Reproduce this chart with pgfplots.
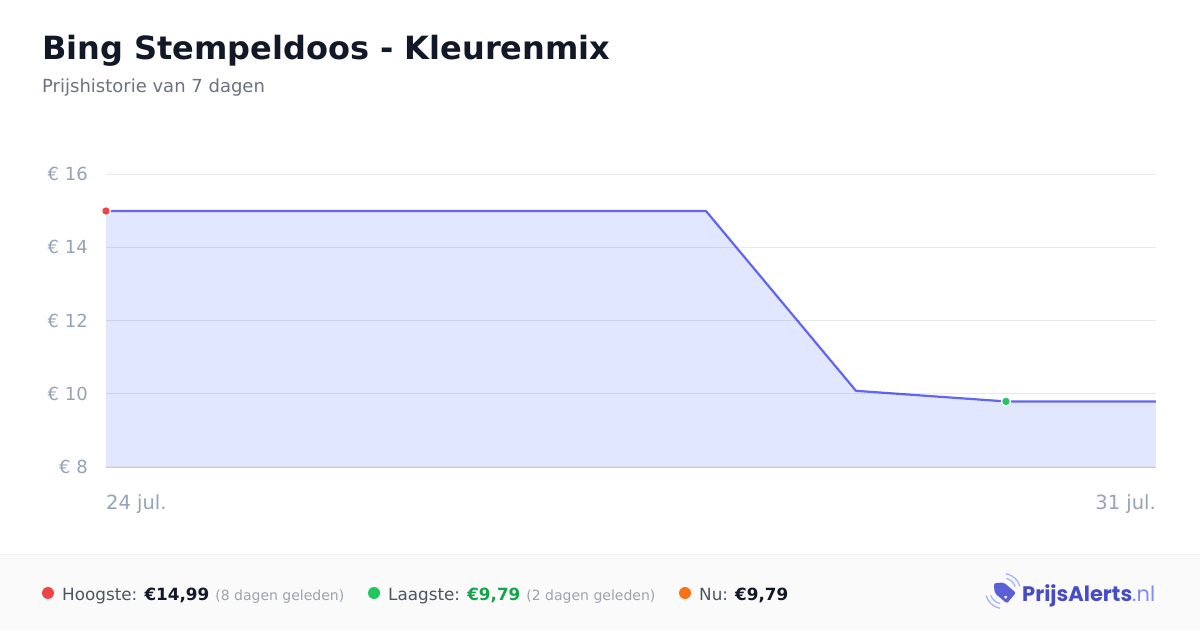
\documentclass[border=0pt]{standalone}
\usepackage{fontspec}
\setmainfont{DejaVu Sans}
\newfontfamily\logofont{Poppins}
\usepackage{pgfplots}
\pgfplotsset{compat=1.18}
\definecolor{titlec}{RGB}{17,24,39}
\definecolor{subc}{RGB}{107,114,128}
\definecolor{tickc}{RGB}{148,163,184}
\definecolor{linec}{RGB}{99,102,241}
\definecolor{fillc}{RGB}{224,231,255}
\definecolor{redc}{RGB}{239,68,68}
\definecolor{greenc}{RGB}{34,197,94}
\definecolor{greent}{RGB}{22,163,74}
\definecolor{orangec}{RGB}{249,115,22}
\definecolor{labc}{RGB}{75,85,99}
\definecolor{parc}{RGB}{156,163,175}
\definecolor{footbg}{RGB}{250,250,250}
\definecolor{footline}{RGB}{238,238,240}
\definecolor{logoc}{RGB}{72,76,196}
\definecolor{tagc}{RGB}{92,96,214}
\definecolor{logol}{RGB}{129,140,248}
\definecolor{wavec}{RGB}{165,180,252}
\definecolor{basec}{RGB}{222,223,230}
\pgfplotstableread{
x y
0 14.99
1 14.99
2 14.99
3 14.99
4 14.99
5 10.08
6 9.79
7 9.79
}\pricedata
\begin{document}
\begin{tikzpicture}[x=1pt,y=1pt]
\useasboundingbox (0,0) rectangle (1200,630);
\fill[white] (0,0) rectangle (1200,630);
\fill[footbg] (0,0) rectangle (1200,76);
\draw[footline, line width=1pt] (0,76) -- (1200,76);
\node[anchor=base west, inner sep=0, text=titlec, font=\fontsize{32}{38}\selectfont\bfseries] at (42,570) {Bing Stempeldoos - Kleurenmix};
\node[anchor=base west, inner sep=0, text=subc, font=\fontsize{18}{21}\selectfont] at (42,537) {Prijshistorie van 7 dagen};
\begin{axis}[
  at={(106pt,163pt)}, anchor=south west,
  scale only axis, width=1050pt, height=293pt,
  xmin=0, xmax=7, ymin=8, ymax=16,
  axis line style={draw=none},
  major tick length=0pt,
  xtick=\empty,
  ytick={8,10,12,14,16},
  yticklabel={€ \pgfmathprintnumber{\tick}},
  /pgf/number format/assume math mode=true,
  yticklabel style={anchor=east, inner sep=0pt, xshift=-18pt, text=tickc, font=\fontsize{18}{21}\selectfont},
  ymajorgrids,
  grid style={black, opacity=0.085, line width=1pt},
  axis on top,
  clip=false,
]
\addplot[draw=none, fill=fillc] table[x=x,y=y]{\pricedata} \closedcycle;
\addplot[linec, line width=2.2pt, line join=round] table[x=x,y=y]{\pricedata};
\draw[basec, line width=1.5pt] (axis cs:0,8) -- (axis cs:7,8);
\addplot[only marks, mark=*, mark size=4.5pt, mark options={fill=redc, draw=white, line width=1.3pt}] coordinates {(0,14.99)};
\addplot[only marks, mark=*, mark size=4.5pt, mark options={fill=greenc, draw=white, line width=1.3pt}] coordinates {(6,9.79)};
\end{axis}
\node[anchor=base west, inner sep=0, text=tickc, font=\fontsize{19.5}{23}\selectfont] at (106,121) {24 jul.};
\node[anchor=base east, inner sep=0, text=tickc, font=\fontsize{19.5}{23}\selectfont] at (1156,121) {31 jul.};
% footer
\fill[redc] (48,37) circle (6);
\node[anchor=base west, inner sep=0, font=\fontsize{16.8}{20}\selectfont] at (62,30) {\textcolor{labc}{Hoogste:} \textcolor{titlec}{\bfseries €14,99}\hspace{6pt}\textcolor{parc}{\fontsize{14}{16}\selectfont(8 dagen geleden)}};
\fill[greenc] (374,37) circle (6);
\node[anchor=base west, inner sep=0, font=\fontsize{16.8}{20}\selectfont] at (388,30) {\textcolor{labc}{Laagste:} \textcolor{greent}{\bfseries €9,79}\hspace{6pt}\textcolor{parc}{\fontsize{14}{16}\selectfont(2 dagen geleden)}};
\fill[orangec] (685,37) circle (6);
\node[anchor=base west, inner sep=0, font=\fontsize{16.8}{20}\selectfont] at (699,30) {\textcolor{labc}{Nu:} \textcolor{titlec}{\bfseries €9,79}};
% logo
\begin{scope}[shift={(1003,39)}, rotate=-40]
  \fill[tagc, rounded corners=2pt] (-12,0) -- (-5,7) -- (11,7) -- (11,-7) -- (-5,-7) -- cycle;
  \fill[white] (6,-3) circle (1.6);
\end{scope}
\draw[wavec, line width=1.3pt] (1003,39) ++(20:13) arc (20:75:13);
\draw[wavec, line width=1.3pt] (1003,39) ++(15:17.5) arc (15:80:17.5);
\draw[wavec, line width=1.3pt] (1003,39) ++(200:13) arc (200:255:13);
\draw[wavec, line width=1.3pt] (1003,39) ++(195:17.5) arc (195:260:17.5);
\node[anchor=base west, inner sep=0, font=\logofont\fontsize{21}{24}\selectfont\bfseries] at (1022,29) {\textcolor{logoc}{PrijsAlerts}\textcolor{logol}{\fontseries{m}\selectfont.nl}};
\end{tikzpicture}
\end{document}
